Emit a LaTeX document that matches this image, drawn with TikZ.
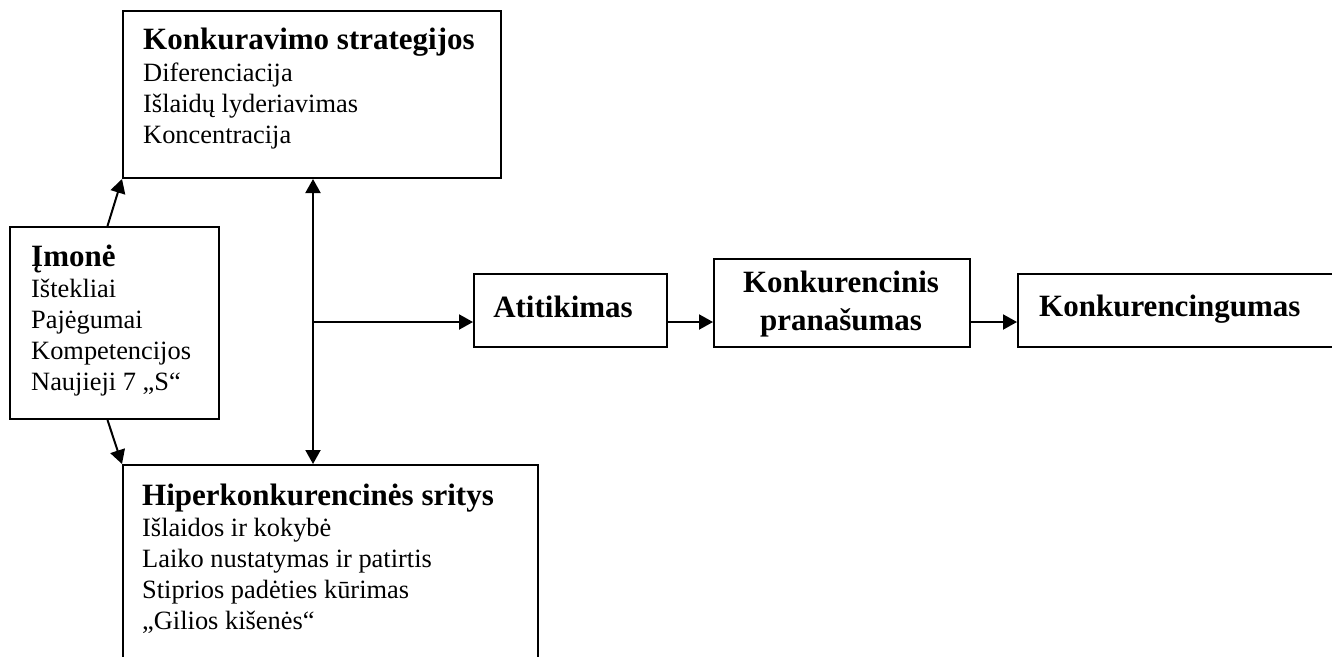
\documentclass[tikz,border=0pt]{standalone}
\usepackage{fontspec}
\setmainfont{Liberation Serif}
\usetikzlibrary{arrows.meta,calc}
\begin{document}
\begin{tikzpicture}[x=1pt,y=-1pt,
  box/.style={draw, line width=2pt, inner sep=0pt, anchor=north west},
  % multi-line body text: the base anchor sits on the last line
  bodytext/.style={font=\fontsize{26.4}{31}\selectfont, anchor=base west, inner sep=0pt, align=left},
  headtext/.style={font=\fontsize{31}{38}\selectfont\bfseries, inner sep=0pt},
  link/.style={line width=2pt, -{Triangle[length=14pt,width=15pt]}},
  dlink/.style={line width=2pt, {Triangle[length=14pt,width=15pt]}-{Triangle[length=14pt,width=15pt]}},
]
\useasboundingbox (0,0) rectangle (1332,656);

% boxes
\node[box, minimum width=378, minimum height=167] (strat) at (122,10) {};
\node[box, minimum width=209, minimum height=192] (imone) at (9,226) {};
\node[box, minimum width=415, minimum height=200] (hiper) at (122,464) {};
\node[box, minimum width=193, minimum height=73] (atit) at (473,273) {};
\node[box, minimum width=256, minimum height=88] (konk) at (713,258) {};
\node[box, minimum width=320, minimum height=73] (konkg) at (1017,273) {};

% box texts
\node[headtext, anchor=base west] (stratH) at (143,49) {Konkuravimo strategijos};
\node[bodytext] (stratB) at (143,143) {Diferenciacija\\Išlaidų lyderiavimas\\Koncentracija};

\node[headtext, anchor=base west] (imoneH) at (31,266) {Įmonė};
\node[bodytext] (imoneB) at (31,390) {Ištekliai\\Pajėgumai\\Kompetencijos\\Naujieji 7 „S“};

\node[headtext, anchor=base west] (hiperH) at (142,505) {Hiperkonkurencinės sritys};
\node[bodytext] (hiperB) at (142,629) {Išlaidos ir kokybė\\Laiko nustatymas ir patirtis\\Stiprios padėties kūrimas\\„Gilios kišenės“};

\node[headtext, anchor=base] (atitT) at (563,317) {Atitikimas};
\node[headtext, anchor=base] (konkT1) at (841,292) {Konkurencinis};
\node[headtext, anchor=base] (konkT2) at (841,330) {pranašumas};
\node[headtext, anchor=base west] (konkgT) at (1039,316) {Konkurencingumas};

% connectors
\coordinate (hub) at (313,322);
\draw[link] ([xshift=-7pt]imone.north) -- (strat.south west);
\draw[link] ([xshift=-7pt]imone.south) -- (hiper.north west);
\draw[dlink] (hub |- strat.south) -- (hub |- hiper.north);
\draw[link] (hub) -- (hub -| atit.west);
\draw[link] (hub -| atit.east) -- (hub -| konk.west);
\draw[link] (hub -| konk.east) -- (hub -| konkg.west);
\end{tikzpicture}
\end{document}
